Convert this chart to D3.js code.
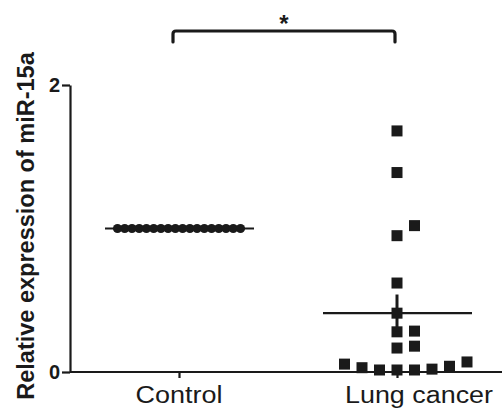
<!DOCTYPE html>
<html>
<head>
<meta charset="utf-8">
<script src="https://cdn.jsdelivr.net/npm/d3@7"></script>
<style>
  html, body { margin: 0; padding: 0; background: #fff; }
  svg { display: block; font-family: Arial, "Liberation Sans", sans-serif; }
</style>
</head>
<body>
<div id="chart"></div>
<script>
//Data
const groups = ["Control", "Lung cancer"];
const controlValues = [1, 1, 1, 1, 1, 1, 1, 1, 1, 1, 1, 1, 1, 1, 1, 1, 1, 1];
const lungValues = [1.68, 1.39, 1.02, 0.95, 0.62, 0.41, 0.285, 0.28, 0.18, 0.167,
                    0.055, 0.03, 0.014, 0.014, 0.07, 0.014, 0.02, 0.04];
const groupMeans = [1.0, 0.41];
const groupSems = [0.0, 0.13];
const yTicks = [0, 2];
const yTitle = "Relative expression of miR-15a";
const sigLabel = "*";

//Size
const width = 502, height = 410;
const margin = { top: 85, right: 0, bottom: 38, left: 70 };
const ink = "#1a1a1a";

const svg = d3.select("#chart")
              .append("svg")
               .attr("width", width)
               .attr("height", height);

//Scales
const xScale = d3.scalePoint()
                 .domain(groups)
                 .range([margin.left, margin.left + 436])
                 .padding(0.5);
const yScale = d3.scaleLinear()
                 .domain([0, 2])
                 .range([height - margin.bottom, margin.top]);

//Simple column scatter layout: points sorted by value, pushed sideways on collision
function swarm(values, markSize, step, maxSpan) {
  const order = d3.range(values.length).sort((a, b) => values[a] - values[b]);
  const placed = [];
  const slots = new Array(values.length);
  order.forEach(function(i) {
    const y = yScale(values[i]);
    for (let k = 0; ; k++) {
      const s = k === 0 ? 0 : (k % 2 ? Math.ceil(k / 2) : -Math.ceil(k / 2));
      if (!placed.some(p => p.s === s && Math.abs(p.y - y) < markSize)) {
        placed.push({ s: s, y: y });
        slots[i] = s;
        break;
      }
    }
  });
  const lo = d3.min(slots), hi = d3.max(slots);
  let shift = 0;
  if ((hi - lo) * step > maxSpan) {
    step = maxSpan / (hi - lo);
    shift = -(hi + lo) / 2;
  }
  return slots.map(s => (s + shift) * step);
}

const controlOffsets = swarm(controlValues, 9, 17.5, 123);
const lungOffsets = swarm(lungValues, 11, 17.5, 123);

//Axes
const yAxis = d3.axisLeft(yScale)
                .tickValues(yTicks)
                .tickSize(8)
                .tickSizeOuter(0)
                .tickPadding(2)
                .tickFormat(d3.format("d"));
const gy = svg.append("g")
              .attr("transform", "translate(" + margin.left + ",0)")
              .call(yAxis);
gy.selectAll("path, line").attr("stroke", ink).attr("stroke-width", 2.2);
gy.selectAll("text")
  .attr("fill", ink)
  .style("font-size", "20px")
  .style("font-weight", "bold");

const xAxis = d3.axisBottom(xScale)
                .tickSize(6)
                .tickSizeOuter(0)
                .tickFormat("");
const gx = svg.append("g")
              .attr("transform", "translate(0," + yScale(0) + ")")
              .call(xAxis);
gx.select(".domain").attr("d", "M" + margin.left + ",0H" + width);
gx.selectAll("path, line").attr("stroke", ink).attr("stroke-width", 2.2);

//Category labels (the original type is a little wider than Arial)
const labelWidths = { "Control": 87, "Lung cancer": 148 };
const labelShift = { "Control": 0, "Lung cancer": 22 };
svg.append("g")
   .selectAll("text")
   .data(groups)
   .enter().append("text")
    .attr("x", d => xScale(d) + labelShift[d])
    .attr("y", yScale(0) + 31)
    .attr("text-anchor", "middle")
    .attr("textLength", d => labelWidths[d])
    .attr("lengthAdjust", "spacingAndGlyphs")
    .style("font-size", "23px")
    .attr("fill", ink)
    .text(d => d);

//Axis title
svg.append("text")
   .attr("transform", "rotate(-90)")
   .attr("x", -226)
   .attr("y", 34)
   .attr("text-anchor", "middle")
   .style("font-size", "23.5px")
   .style("font-weight", "bold")
   .attr("fill", ink)
   .text(yTitle);

//Points
svg.append("g")
   .selectAll("circle")
   .data(controlValues)
   .enter().append("circle")
    .attr("cx", (d, i) => xScale("Control") + controlOffsets[i])
    .attr("cy", d => yScale(d))
    .attr("r", 4.6)
    .attr("fill", ink);

svg.append("g")
   .selectAll("rect")
   .data(lungValues)
   .enter().append("rect")
    .attr("x", (d, i) => xScale("Lung cancer") + lungOffsets[i] - 5.5)
    .attr("y", d => yScale(d) - 5.5)
    .attr("width", 11)
    .attr("height", 11)
    .attr("fill", ink);

//Mean and SEM
const stats = groups.map((g, i) => ({ group: g, mean: groupMeans[i], sem: groupSems[i] }));
const gStats = svg.append("g");
gStats.selectAll(".mean-line")
      .data(stats)
      .enter().append("line")
       .attr("class", "mean-line")
       .attr("x1", d => xScale(d.group) - 74)
       .attr("x2", d => xScale(d.group) + 75)
       .attr("y1", d => yScale(d.mean))
       .attr("y2", d => yScale(d.mean))
       .attr("stroke", ink)
       .attr("stroke-width", 2.2);
gStats.selectAll(".sem-line")
      .data(stats)
      .enter().append("line")
       .attr("class", "sem-line")
       .attr("x1", d => xScale(d.group))
       .attr("x2", d => xScale(d.group))
       .attr("y1", d => yScale(d.mean - d.sem))
       .attr("y2", d => yScale(d.mean + d.sem))
       .attr("stroke", ink)
       .attr("stroke-width", 3);

//Significance bracket
const bx1 = xScale("Control") - 6, bx2 = xScale("Lung cancer") - 2, by = 31;
svg.append("path")
   .attr("d", "M" + bx1 + "," + (by + 11) + "V" + (by + 3) + "Q" + bx1 + "," + by + " " + (bx1 + 3) + "," + by +
              "H" + (bx2 - 3) + "Q" + bx2 + "," + by + " " + bx2 + "," + (by + 3) + "V" + (by + 11))
   .attr("fill", "none")
   .attr("stroke", ink)
   .attr("stroke-width", 3.2)
   .attr("stroke-linecap", "round");
svg.append("text")
   .attr("x", (bx1 + bx2) / 2)
   .attr("y", 32)
   .attr("text-anchor", "middle")
   .style("font-size", "24px")
   .style("font-weight", "bold")
   .attr("fill", ink)
   .text(sigLabel);
</script>
</body>
</html>
